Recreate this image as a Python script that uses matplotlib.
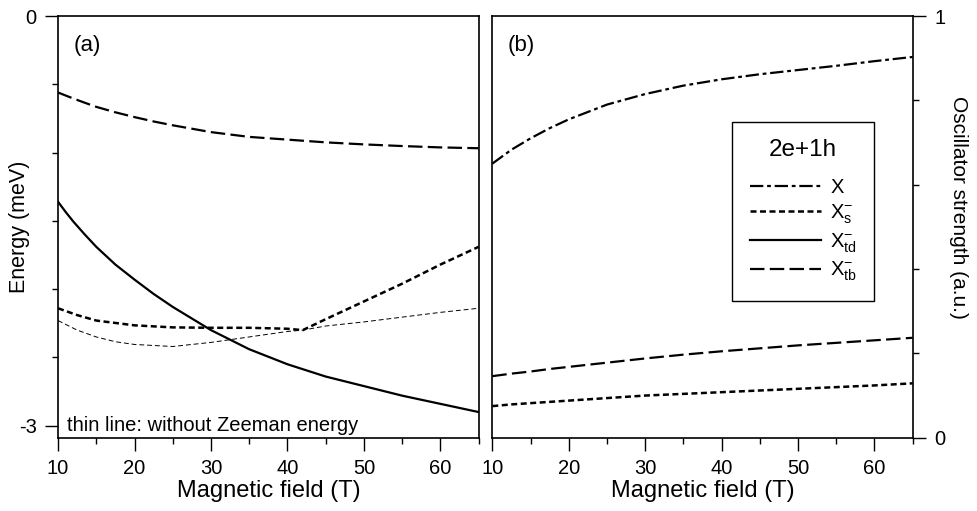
import matplotlib
matplotlib.use("Agg")
import matplotlib.pyplot as plt
from matplotlib.ticker import MultipleLocator, FixedLocator

plt.rcParams["font.family"] = ["Liberation Sans", "DejaVu Sans"]
plt.rcParams["mathtext.fontset"] = "custom"
plt.rcParams["mathtext.rm"] = "Liberation Sans"
plt.rcParams["mathtext.it"] = "Liberation Sans:italic"

# ---- data: (a) energies (meV) ----
field = [10, 11, 12, 13.5, 15, 17.5, 20, 22.5, 25, 30, 35, 40, 45, 50, 55, 60, 65]
e_tb = [-0.56, -0.582, -0.604, -0.635, -0.665, -0.705, -0.74, -0.772, -0.80, -0.85, -0.885,
        -0.905, -0.925, -0.94, -0.952, -0.962, -0.968]
e_td = [-1.36, -1.435, -1.505, -1.60, -1.69, -1.82, -1.93, -2.035, -2.13, -2.30, -2.44,
        -2.55, -2.64, -2.71, -2.78, -2.84, -2.90]

field_s = [10, 12.5, 15, 20, 25, 30, 35, 40, 42, 45, 50, 55, 60, 65]
e_s = [-2.14, -2.19, -2.23, -2.265, -2.28, -2.283, -2.283, -2.29, -2.30, -2.22, -2.09, -1.96, -1.82, -1.69]

field_thin = [10, 12.5, 15, 17.5, 20, 25, 30, 35, 40, 42, 45, 50, 55, 60, 65]
e_s_nozee = [-2.23, -2.30, -2.35, -2.385, -2.405, -2.42, -2.39, -2.35, -2.31, -2.30, -2.27, -2.24, -2.205, -2.17, -2.14]

# ---- data: (b) oscillator strength (a.u.) ----
field_b = [10, 12.5, 15, 17.5, 20, 25, 30, 35, 40, 45, 50, 55, 60, 65]
f_x = [0.65, 0.683, 0.71, 0.734, 0.755, 0.79, 0.815, 0.835, 0.85, 0.862, 0.872, 0.882, 0.893, 0.903]
f_tb = [0.146, 0.152, 0.157, 0.163, 0.168, 0.178, 0.188, 0.197, 0.205, 0.212, 0.219, 0.225, 0.231, 0.237]
f_s = [0.075, 0.079, 0.082, 0.085, 0.088, 0.094, 0.100, 0.104, 0.108, 0.112, 0.116, 0.120, 0.124, 0.129]

labels = ["X", r"$\mathrm{X_s^{-}}$", r"$\mathrm{X_{td}^{-}}$", r"$\mathrm{X_{tb}^{-}}$"]

LW = 1.6
st_x = dict(color="black", lw=LW, dashes=(6.0, 1.7, 1.7, 1.7))
st_s = dict(color="black", lw=LW + 0.2, dashes=(2.4, 1.4))
st_td = dict(color="black", lw=LW, linestyle="-")
st_tb = dict(color="black", lw=LW, dashes=(6.5, 2.4))

fig = plt.figure(figsize=(9.77, 5.11), dpi=100)
ax1 = fig.add_axes([0.0594, 0.1434, 0.4305, 0.8252])
ax2 = fig.add_axes([0.5039, 0.1434, 0.4303, 0.8252])

# panel (a)
ax1.plot(field, e_tb, **st_tb)
ax1.plot(field, e_td, **st_td)
ax1.plot(field_s, e_s, **st_s)
ax1.plot(field_thin, e_s_nozee, color="black", lw=0.7, dashes=(5, 3))
ax1.set_xlim(10, 65)
ax1.set_ylim(-3.088, 0)
ax1.yaxis.set_major_locator(FixedLocator([-3, 0]))
ax1.yaxis.set_minor_locator(MultipleLocator(0.5))
ax1.set_yticklabels(["-3", "0"])
ax1.set_ylabel("Energy (meV)", fontsize=15.5, va="center")
ax1.yaxis.set_label_coords(-0.092, 0.5)
ax1.text(0.036, 0.931, "(a)", transform=ax1.transAxes, fontsize=16, va="center")
ax1.text(0.022, 0.03, "thin line: without Zeeman energy", transform=ax1.transAxes,
         fontsize=14.5, va="center")

# panel (b)
ax2.plot(field_b, f_x, label=labels[0], **st_x)
ax2.plot(field_b, f_s, label=labels[1], **st_s)
ax2.plot([], [], label=labels[2], **st_td)
ax2.plot(field_b, f_tb, label=labels[3], **st_tb)
ax2.set_xlim(10, 65)
ax2.set_ylim(0, 1)
ax2.yaxis.tick_right()
ax2.yaxis.set_label_position("right")
ax2.yaxis.set_major_locator(FixedLocator([0, 1]))
ax2.yaxis.set_minor_locator(MultipleLocator(0.2))
ax2.set_yticklabels(["0", "1"])
ax2.set_ylabel("Oscillator strength (a.u.)", fontsize=15, rotation=-90, va="center")
ax2.yaxis.set_label_coords(1.108, 0.545)
ax2.text(0.037, 0.931, "(b)", transform=ax2.transAxes, fontsize=16, va="center")

leg = ax2.legend(loc="upper right", bbox_to_anchor=(0.908, 0.749), borderaxespad=0,
                 title="2e+1h", fontsize=14.5, title_fontsize=17.5, handlelength=3.55,
                 handletextpad=0.45, labelspacing=0.27, borderpad=0.85,
                 fancybox=False, frameon=True)
leg._legend_box.sep = 12
leg.get_frame().set_edgecolor("black")
leg.get_frame().set_linewidth(1.0)
leg.get_frame().set_alpha(1)

for ax in (ax1, ax2):
    ax.xaxis.set_major_locator(MultipleLocator(10))
    ax.xaxis.set_minor_locator(MultipleLocator(5))
    ax.set_xlabel("Magnetic field (T)", fontsize=17, labelpad=1)
    ax.tick_params(which="major", direction="out", length=9.5, width=1.0,
                   labelsize=14.5, pad=6, color="black")
    ax.tick_params(which="minor", direction="out", length=4.5, width=1.0)
    for sp in ax.spines.values():
        sp.set_linewidth(1.2)

fig.savefig("out.png", dpi=100, facecolor="white")
